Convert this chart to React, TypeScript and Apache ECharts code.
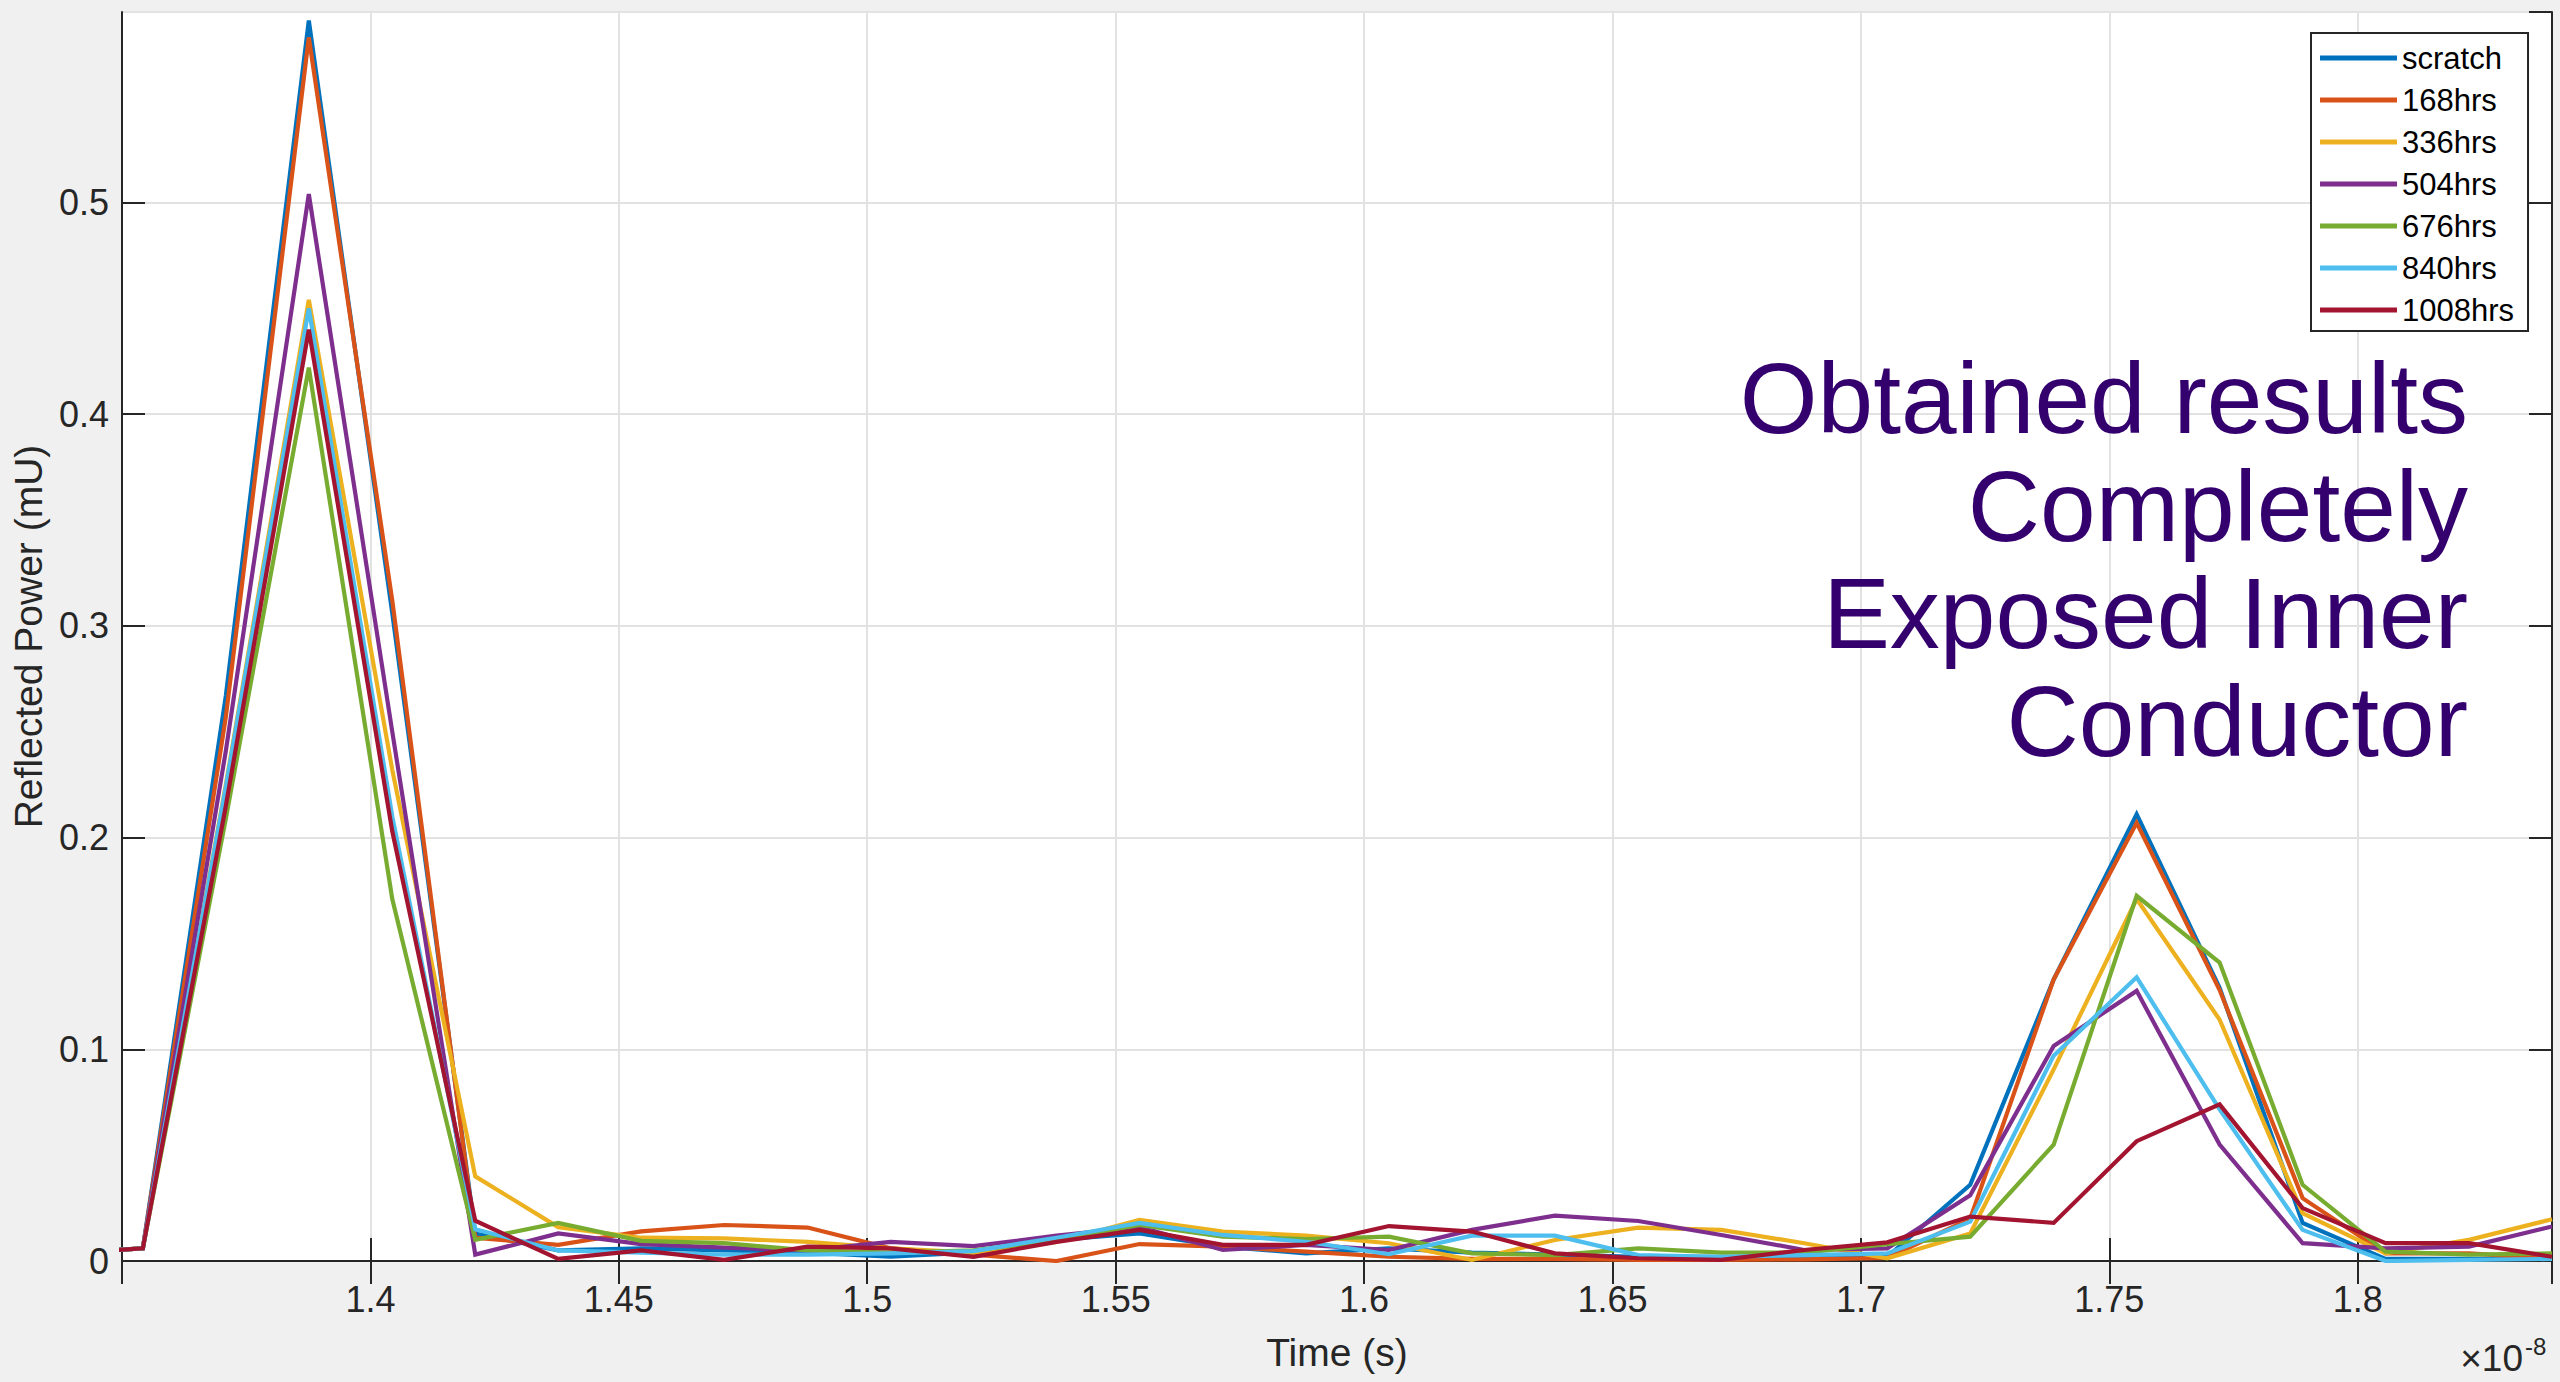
import React, { useEffect, useRef } from 'react';
import * as echarts from 'echarts';

// Time samples (×1e-8 s)
const times = [
  1.3375, 1.3542, 1.3709, 1.3876, 1.4044, 1.4211, 1.4378, 1.4545, 1.4712, 1.4880,
  1.5047, 1.5214, 1.5381, 1.5548, 1.5716, 1.5883, 1.6050, 1.6217, 1.6384, 1.6552,
  1.6719, 1.6886, 1.7053, 1.7220, 1.7388, 1.7555, 1.7722, 1.7889, 1.8056, 1.8224,
  1.8391,
];

const seriesNames = ['scratch', '168hrs', '336hrs', '504hrs', '676hrs', '840hrs', '1008hrs'];
const seriesColors = ['#0072BD', '#D95319', '#EDB120', '#7E2F8E', '#77AC30', '#4DBEEE', '#A2142F'];

const scratch = [
  0.0035, 0.006, 0.267, 0.586, 0.306, 0.013, 0.005, 0.006, 0.005, 0.004,
  0.002, 0.004, 0.010, 0.013, 0.0068, 0.0036, 0.006, 0.004, 0.003, 0.002,
  0.002, 0.0013, 0.002, 0.036, 0.133, 0.211, 0.129, 0.018, 0.001, 0.001,
  0.001,
];
const hrs168 = [
  0.0035, 0.006, 0.257, 0.578, 0.312, 0.011, 0.0076, 0.014, 0.017, 0.0158,
  0.006, 0.003, 0.0, 0.008, 0.0068, 0.0044, 0.002, 0.001, 0.001, 0.0005,
  0.0005, 0.0008, 0.0015, 0.020, 0.133, 0.207, 0.128, 0.0297, 0.0036, 0.0036,
  0.001,
];
const hrs336 = [
  0.0035, 0.006, 0.225, 0.454, 0.232, 0.040, 0.016, 0.011, 0.0107, 0.009,
  0.006, 0.004, 0.009, 0.0194, 0.0139, 0.012, 0.0084, 0.0005, 0.0099, 0.0158,
  0.0147, 0.0084, 0.0013, 0.013, 0.0905, 0.171, 0.114, 0.0226, 0.0036, 0.010,
  0.0197,
];
const hrs504 = [
  0.0035, 0.006, 0.241, 0.504, 0.250, 0.003, 0.013, 0.008, 0.0063, 0.005,
  0.009, 0.007, 0.012, 0.016, 0.0052, 0.0076, 0.0052, 0.0147, 0.0214, 0.0189,
  0.0123, 0.0052, 0.006, 0.031, 0.1016, 0.1276, 0.055, 0.0084, 0.006, 0.0068,
  0.0163,
];
const hrs676 = [
  0.0035, 0.006, 0.209, 0.422, 0.171, 0.010, 0.018, 0.0095, 0.0084, 0.005,
  0.004, 0.005, 0.0099, 0.017, 0.0115, 0.0104, 0.0115, 0.0036, 0.0028, 0.006,
  0.004, 0.004, 0.0079, 0.0115, 0.055, 0.1725, 0.141, 0.036, 0.0044, 0.003,
  0.0036,
];
const hrs840 = [
  0.0035, 0.006, 0.224, 0.450, 0.210, 0.015, 0.005, 0.004, 0.003, 0.003,
  0.0036, 0.0047, 0.011, 0.018, 0.0123, 0.0091, 0.0032, 0.012, 0.012, 0.0028,
  0.002, 0.0028, 0.0036, 0.0186, 0.097, 0.134, 0.0716, 0.0147, 0.0, 0.0005,
  0.001,
];
const hrs1008 = [
  0.0035, 0.006, 0.215, 0.440, 0.203, 0.019, 0.001, 0.005, 0.0005, 0.0068,
  0.006, 0.002, 0.009, 0.0147, 0.0076, 0.0076, 0.0165, 0.0139, 0.0036, 0.0013,
  0.0005, 0.0052, 0.0088, 0.021, 0.018, 0.0566, 0.074, 0.025, 0.0084, 0.0084,
  0.002,
];

const seriesValues = [scratch, hrs168, hrs336, hrs504, hrs676, hrs840, hrs1008];

const xMin = 1.35;
const xMax = 1.8391;
const xInterval = 0.05;
const yMin = 0;
const yMax = 0.59;
const yInterval = 0.1;

const xAxisTitle = 'Time (s)';
const yAxisTitle = 'Reflected Power (mU)';
const exponentBase = '×10';
const exponentPower = '-8';
const noteLines = ['Obtained results', 'Completely', 'Exposed Inner', 'Conductor'];

const FONT = '"Liberation Sans", Arial, Helvetica, sans-serif';
const AXIS_COLOR = '#262626';

export default function App() {
  const ref = useRef<HTMLDivElement>(null);

  useEffect(() => {
    if (!ref.current) return;
    const chart = echarts.init(ref.current, undefined, { renderer: 'svg' });

    const fmtX = (v: number) => String(Math.round(v * 100) / 100);
    const fmtY = (v: number) => String(Math.round(v * 10) / 10);

    const axisCommon = {
      axisLine: { show: true, lineStyle: { color: AXIS_COLOR, width: 2 } },
      axisTick: { show: true, inside: true, length: 23, lineStyle: { color: AXIS_COLOR, width: 2 } },
    };

    const option: any = {
      animation: false,
      backgroundColor: '#f0f0f0',
      textStyle: { fontFamily: FONT },
      grid: {
        left: 122,
        right: 8,
        top: 12,
        bottom: 121,
        show: true,
        backgroundColor: '#ffffff',
        borderWidth: 0,
        containLabel: false,
        outerBoundsMode: 'none',
      },
      xAxis: [
        {
          type: 'value',
          position: 'bottom',
          min: xMin,
          max: xMax,
          interval: xInterval,
          ...axisCommon,
          axisLabel: {
            show: true,
            showMinLabel: false,
            showMaxLabel: false,
            margin: 20,
            fontSize: 36,
            color: AXIS_COLOR,
            fontFamily: FONT,
            formatter: fmtX,
          },
          splitLine: { show: true, lineStyle: { color: '#e2e2e2', width: 2 } },
          name: xAxisTitle,
          nameLocation: 'middle',
          nameGap: 72,
          nameTextStyle: { fontSize: 39, color: AXIS_COLOR, fontFamily: FONT },
        },
        {
          type: 'value',
          position: 'top',
          min: xMin,
          max: xMax,
          interval: xInterval,
          ...axisCommon,
          axisLabel: { show: false },
          splitLine: { show: false },
        },
      ],
      yAxis: [
        {
          type: 'value',
          position: 'left',
          min: yMin,
          max: yMax,
          interval: yInterval,
          ...axisCommon,
          axisLabel: {
            show: true,
            showMaxLabel: false,
            margin: 13,
            fontSize: 36,
            color: AXIS_COLOR,
            fontFamily: FONT,
            formatter: fmtY,
          },
          splitLine: { show: true, lineStyle: { color: '#e2e2e2', width: 2 } },
          name: yAxisTitle,
          nameLocation: 'middle',
          nameGap: 74,
          nameTextStyle: { fontSize: 39, color: AXIS_COLOR, fontFamily: FONT },
        },
        {
          type: 'value',
          position: 'right',
          min: yMin,
          max: yMax,
          interval: yInterval,
          ...axisCommon,
          axisLabel: { show: false },
          splitLine: { show: false },
        },
      ],
      legend: {
        orient: 'vertical',
        left: 2311,
        top: 33,
        backgroundColor: '#ffffff',
        borderColor: AXIS_COLOR,
        borderWidth: 2,
        borderRadius: 0,
        padding: [9, 14, 5, 9],
        itemGap: 10,
        itemWidth: 77,
        itemHeight: 5,
        icon: 'rect',
        selectedMode: false,
        textStyle: { fontSize: 31, color: '#000000', fontFamily: FONT, lineHeight: 32 },
        data: seriesNames,
        z: 20,
      },
      series: seriesNames.map((name, i) => ({
        name,
        type: 'line',
        xAxisIndex: 0,
        yAxisIndex: 0,
        data: times.map((t, j) => [t, seriesValues[i][j]]),
        symbol: 'none',
        showSymbol: false,
        smooth: false,
        clip: true,
        silent: true,
        color: seriesColors[i],
        lineStyle: { color: seriesColors[i], width: 4.2, join: 'miter' },
        emphasis: { disabled: true },
        z: 3 + i * 0.01,
      })),
      graphic: [
        ...noteLines.map((line, i) => ({
          type: 'text',
          x: 2468,
          y: 398 + i * 107.7,
          z: 30,
          silent: true,
          style: {
            text: line,
            fill: '#34006e',
            fontSize: 100,
            fontFamily: FONT,
            align: 'right',
            textAlign: 'right',
            verticalAlign: 'middle',
            textVerticalAlign: 'middle',
          },
        })),
        {
          type: 'text',
          x: 2523,
          y: 1358,
          z: 30,
          silent: true,
          style: {
            text: exponentBase,
            fill: AXIS_COLOR,
            fontSize: 37,
            fontFamily: FONT,
            align: 'right',
            textAlign: 'right',
            verticalAlign: 'middle',
            textVerticalAlign: 'middle',
          },
        },
        {
          type: 'text',
          x: 2525,
          y: 1346,
          z: 30,
          silent: true,
          style: {
            text: exponentPower,
            fill: AXIS_COLOR,
            fontSize: 24,
            fontFamily: FONT,
            align: 'left',
            textAlign: 'left',
            verticalAlign: 'middle',
            textVerticalAlign: 'middle',
          },
        },
      ],
    };

    chart.setOption(option);
    return () => {
      chart.dispose();
    };
  }, []);

  return (
    <div
      ref={ref}
      style={{ position: 'fixed', left: 0, top: 0, width: 2560, height: 1382 }}
    />
  );
}
